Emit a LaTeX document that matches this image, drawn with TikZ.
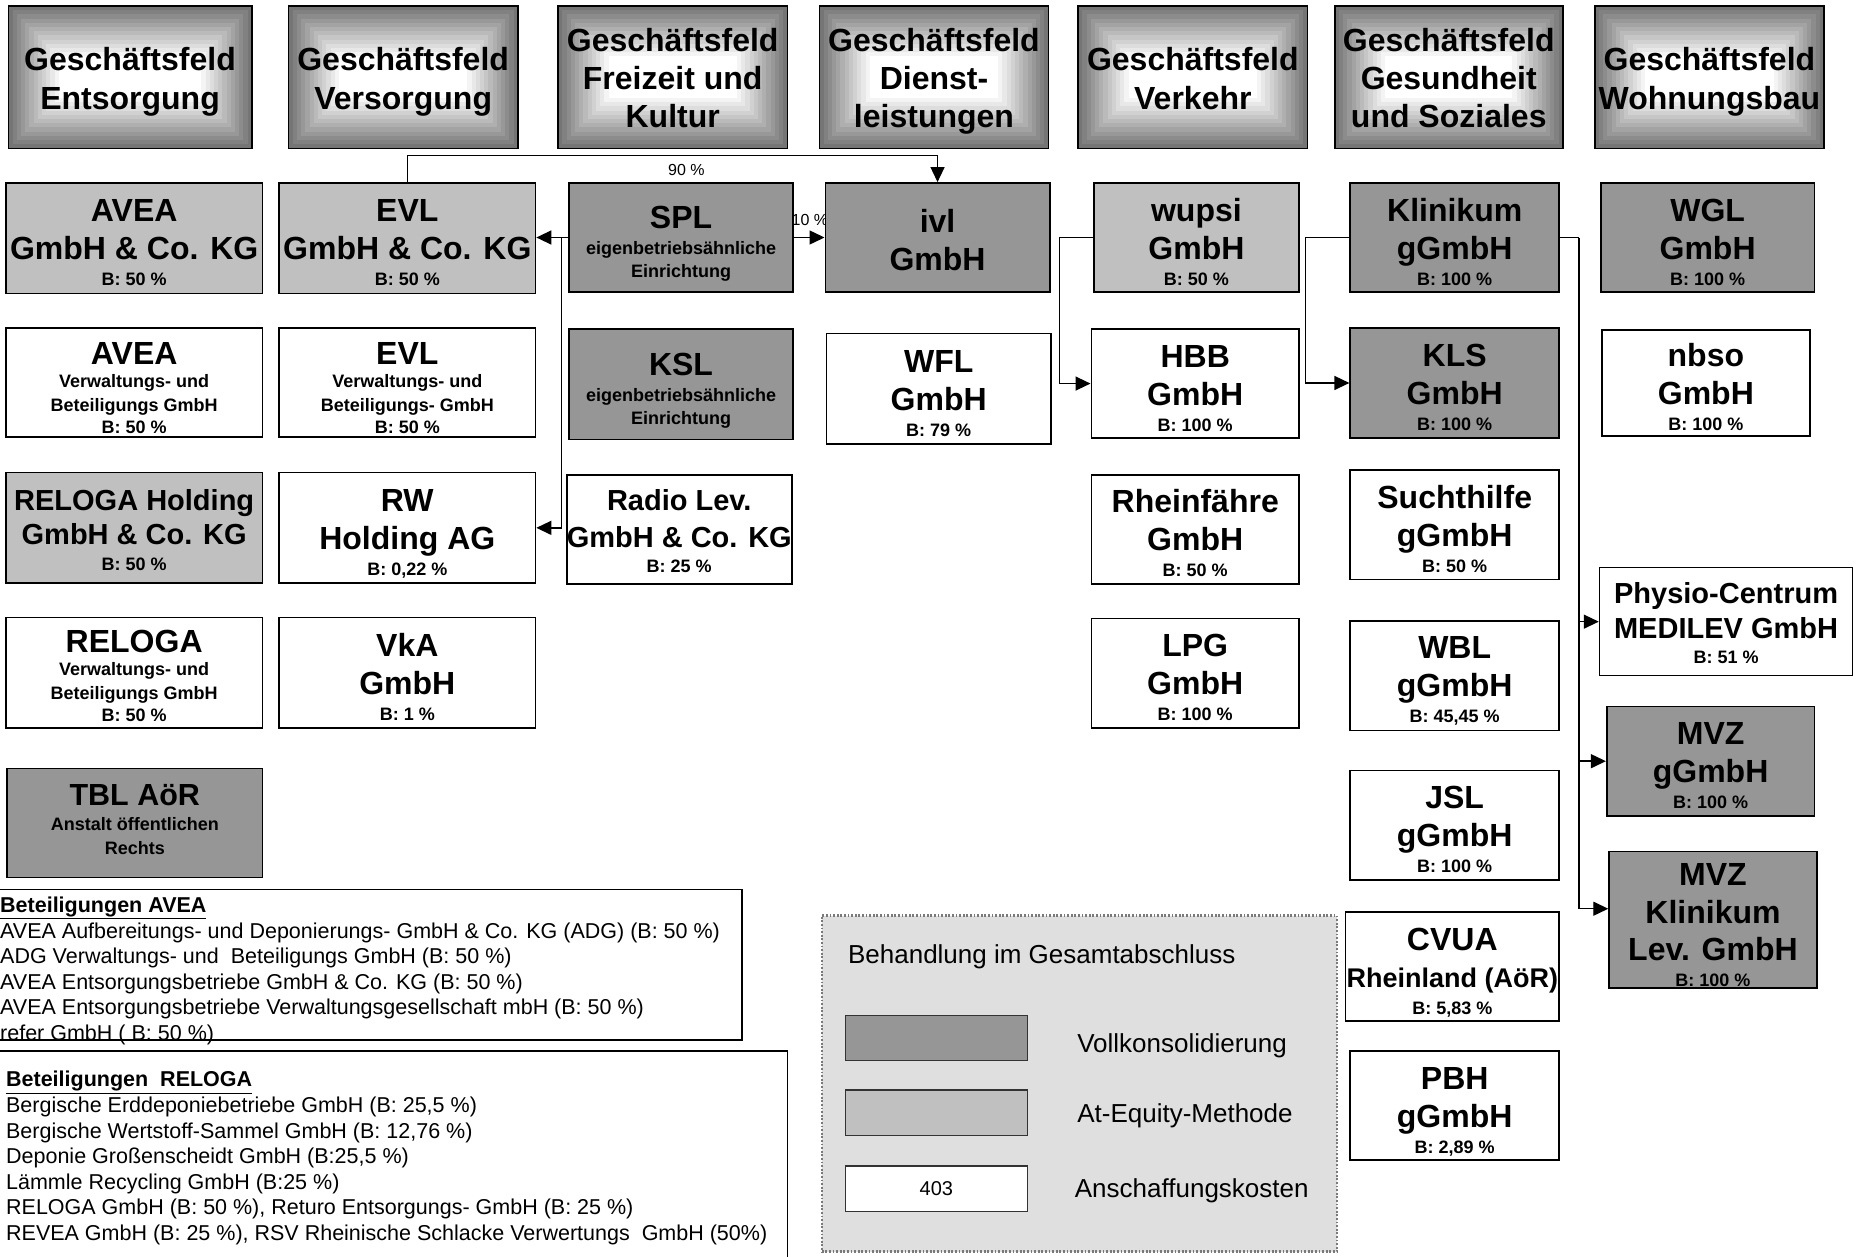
\documentclass[tikz,border=0pt]{standalone}
\usepackage{fontspec}
\setmainfont{Liberation Sans}
\usetikzlibrary{arrows.meta,fit,calc}
\definecolor{vkgray}{HTML}{969696}
\definecolor{eqgray}{HTML}{C0C0C0}
\definecolor{leggray}{HTML}{DFDFDF}
\definecolor{dotgray}{HTML}{7A7A7A}
\newcommand\nodeF{\fontsize{18}{0}\selectfont\lineskiplimit=-1000pt\bfseries}
\newcommand\headF{\fontsize{32}{0}\selectfont\lineskiplimit=-1000pt\bfseries}
\newcommand\bgF{\fontsize{32}{0}\selectfont}
\newcommand\mdF{\fontsize{29}{0}\selectfont}
\newcommand\rlF{\fontsize{27}{0}\selectfont}
\newcommand\tbF{\fontsize{30.5}{0}\selectfont}
\newcommand\legF{\fontsize{26}{30}\selectfont}
\newcommand\lstF{\fontsize{21.5}{25.6}\selectfont}
\newcommand\tpad[1]{\rule{0pt}{#1}}
\newcommand\dpad[1]{\rule[-#1]{0pt}{#1}}
\tikzset{
  boxat/.style n args={4}{minimum width={(#3-#1)*1.1875pt}, minimum height={(#4-#2)*1.1875pt},
     at={({(#1+#3)/2},{(#2+#4)/2})}},
  box/.style={draw=black, line width=1.6pt, inner sep=0pt, align=center, font=\nodeF},
  vk/.style={box, fill=vkgray},
  eq/.style={box, fill=eqgray},
  ak/.style={box, fill=white},
  hdr/.style={box, font=\headF, fill=black!54, path picture={
      \foreach \k in {1,...,12}{
        \pgfmathsetmacro\gv{54-54*\k/12}
        \fill[black!\gv] ([shift={(\k*4.2pt,\k*4.2pt)}]path picture bounding box.south west)
          rectangle ([shift={(-\k*4.2pt,-\k*4.2pt)}]path picture bounding box.north east);
      }}},
  listbx/.style={draw=black, line width=1.6pt, inner sep=0pt},
  legbox/.style={fill=leggray, draw=dotgray, line width=2.4pt, dash pattern=on 1.8pt off 1.8pt, inner sep=0pt},
  swatch/.style={draw=black!80, line width=1.4pt, inner sep=0pt},
  lbl/.style={font=\fontsize{16}{19}\selectfont, inner sep=0pt},
  lsttxt/.style={anchor=north west, align=left, inner sep=0pt, font=\lstF},
  legtxt/.style={anchor=base west, inner sep=0pt, font=\legF},
  ln/.style={line width=1.4pt},
  arr/.style={line width=1.4pt, -{Triangle[length=15pt,width=14pt]}},
}
\begin{document}
\begin{tikzpicture}[x=1.1875pt, y=-1.1875pt]
\useasboundingbox (0,0) rectangle (1568,1058);
\fill[white] (0,0) rectangle (1568,1058);

% headers
\node[hdr, boxat={7}{5}{212}{125}] (h1) {\tpad{33pt}Geschäftsfeld\\[39pt]Entsorgung\dpad{6.7pt}};
\node[hdr, boxat={243}{5}{436}{125}] (h2) {\tpad{33pt}Geschäftsfeld\\[39pt]Versorgung\dpad{6.7pt}};
\node[hdr, boxat={470}{5}{663}{125}] (h3) {\tpad{30.6pt}Geschäftsfeld\\[38pt]Freizeit und\\[38pt]Kultur\dpad{6.7pt}};
\node[hdr, boxat={690}{5}{883}{125}] (h4) {\tpad{30.6pt}Geschäftsfeld\\[38pt]Dienst-\\[38pt]leistungen\dpad{6.7pt}};
\node[hdr, boxat={908}{5}{1101}{125}] (h5) {\tpad{33pt}Geschäftsfeld\\[39pt]Verkehr\dpad{6.7pt}};
\node[hdr, boxat={1124}{5}{1316}{125}] (h6) {\tpad{30.6pt}Geschäftsfeld\\[38pt]Gesundheit\\[38pt]und Soziales\dpad{6.7pt}};
\node[hdr, boxat={1343}{5}{1536}{125}] (h7) {\tpad{33pt}Geschäftsfeld\\[39pt]Wohnungsbau\dpad{6.7pt}};

% row 1
\node[eq, boxat={5}{154}{221}{247}] (avea) {{\bgF\tpad{31.4pt}AVEA}\\[38pt]{\bgF GmbH \& Co. KG}\\[26pt]B: 50 \%};
\node[eq, boxat={235}{154}{451}{247}] (evl) {{\bgF\tpad{31.4pt}EVL}\\[38pt]{\bgF GmbH \& Co. KG}\\[26pt]B: 50 \%};
\node[vk, boxat={479}{154}{668}{246}] (spl) {{\bgF\tpad{35pt}SPL}\\[26pt]eigenbetriebsähnliche\\[23pt]Einrichtung};
\node[lbl] (l10) at (682,185) {10 \%};
\node[vk, boxat={695}{154}{884}{246}] (ivl) {{\bgF\tpad{28pt}ivl}\\[38pt]{\bgF GmbH}};
\node[eq, boxat={921}{154}{1094}{246}] (wupsi) {{\bgF\tpad{31.4pt}wupsi}\\[38pt]{\bgF GmbH}\\[26pt]B: 50 \%};
\node[vk, boxat={1137}{154}{1313}{246}] (klin) {{\bgF\tpad{31.4pt}Klinikum}\\[38pt]{\bgF gGmbH}\\[26pt]B: 100 \%};
\node[vk, boxat={1348}{154}{1528}{246}] (wgl) {{\bgF\tpad{31.4pt}WGL}\\[38pt]{\bgF GmbH}\\[26pt]B: 100 \%};

% row 2
\node[ak, boxat={5}{276}{221}{368}] (aveav) {{\bgF\tpad{33pt}AVEA}\\[23.5pt]Verwaltungs- und\\[23.5pt]Beteiligungs GmbH\\[22pt]B: 50 \%};
\node[ak, boxat={235}{276}{451}{368}] (evlv) {{\bgF\tpad{33pt}EVL}\\[23.5pt]Verwaltungs- und\\[23.5pt]Beteiligungs- GmbH\\[22pt]B: 50 \%};
\node[vk, boxat={479}{277}{668}{370}] (ksl) {{\bgF\tpad{35pt}KSL}\\[26pt]eigenbetriebsähnliche\\[23pt]Einrichtung};
\node[ak, boxat={696}{281}{885}{374}] (wfl) {{\bgF\tpad{32pt}WFL}\\[38pt]{\bgF GmbH}\\[26pt]B: 79 \%};
\node[ak, boxat={919}{277}{1094}{369}] (hbb) {{\bgF\tpad{32pt}HBB}\\[38pt]{\bgF GmbH}\\[26pt]B: 100 \%};
\node[vk, boxat={1137}{276}{1313}{369}] (kls) {{\bgF\tpad{31.4pt}KLS}\\[38pt]{\bgF GmbH}\\[26pt]B: 100 \%};
\node[ak, boxat={1349}{278}{1524}{367}] (nbso) {{\bgF\tpad{31.4pt}nbso}\\[38pt]{\bgF GmbH}\\[26pt]B: 100 \%};

% row 3
\node[eq, boxat={5}{398}{221}{491}] (relh) {{\mdF\tpad{26pt}RELOGA Holding}\\[34pt]{\mdF GmbH \& Co. KG}\\[26pt]B: 50 \%};
\node[ak, boxat={235}{398}{451}{491}] (rw) {{\bgF\tpad{34pt}RW}\\[38pt]{\bgF Holding AG}\\[26pt]B: 0,22 \%};
\node[ak, boxat={478}{400}{666}{492}] (radio) {{\mdF\tpad{23.5pt}Radio Lev.}\\[37pt]{\mdF GmbH \& Co. KG}\\[25pt]B: 25 \%};
\node[ak, boxat={919}{400}{1094}{492}] (rhein) {{\bgF\tpad{29pt}Rheinfähre}\\[38pt]{\bgF GmbH}\\[26pt]B: 50 \%};
\node[ak, boxat={1137}{396}{1313}{488}] (sucht) {{\bgF\tpad{31.4pt}Suchthilfe}\\[38pt]{\bgF gGmbH}\\[26pt]B: 50 \%};

% row 4
\node[ak, boxat={5}{520}{221}{613}] (relv) {{\bgF\tpad{28pt}RELOGA}\\[23.5pt]Verwaltungs- und\\[23.5pt]Beteiligungs GmbH\\[22pt]B: 50 \%};
\node[ak, boxat={235}{520}{451}{613}] (vka) {{\bgF\tpad{31.4pt}VkA}\\[38pt]{\bgF GmbH}\\[26pt]B: 1 \%};
\node[ak, boxat={919}{521}{1094}{613}] (lpg) {{\bgF\tpad{31.4pt}LPG}\\[38pt]{\bgF GmbH}\\[26pt]B: 100 \%};
\node[ak, boxat={1137}{523}{1313}{615}] (wbl) {{\bgF\tpad{32pt}WBL}\\[38pt]{\bgF gGmbH}\\[26pt]B: 45,45 \%};
\node[ak, boxat={1347}{478}{1560}{569}] (physio) {{\mdF\tpad{23.5pt}Physio-Centrum}\\[35pt]{\mdF MEDILEV GmbH}\\[25pt]B: 51 \%};

% row 5 and below
\node[vk, boxat={6}{647}{221}{739}] (tbl) {{\tbF TBL AöR}\\[24.5pt]Anstalt öffentlichen\\[24pt]Rechts\dpad{7.2pt}};
\node[ak, boxat={1137}{649}{1313}{741}] (jsl) {{\bgF\tpad{31.4pt}JSL}\\[38pt]{\bgF gGmbH}\\[26pt]B: 100 \%};
\node[vk, boxat={1353}{595}{1528}{687}] (mvzg) {{\bgF\tpad{31.4pt}MVZ}\\[38pt]{\bgF gGmbH}\\[26pt]B: 100 \%};
\node[vk, boxat={1355}{717}{1530}{832}] (mvzk) {{\bgF\tpad{33pt}MVZ}\\[38pt]{\bgF Klinikum}\\[37pt]{\bgF Lev. GmbH}\\[26pt]B: 100 \%};
\node[ak, boxat={1133}{768}{1313}{860}] (cvua) {{\bgF\tpad{35.4pt}CVUA}\\[37pt]{\rlF Rheinland (AöR)}\\[27pt]B: 5,83 \%};
\node[ak, boxat={1137}{885}{1313}{977}] (pbh) {{\bgF\tpad{35pt}PBH}\\[38pt]{\bgF gGmbH}\\[26pt]B: 2,89 \%};

% lists
\node[lsttxt] (tavea) at (0,755.1) {\textbf{\underline{Beteiligungen AVEA}}\\
AVEA Aufbereitungs- und Deponierungs- GmbH \& Co. KG (ADG) (B: 50 \%)\\
ADG Verwaltungs- und\ \ Beteiligungs GmbH (B: 50 \%)\\
AVEA Entsorgungsbetriebe GmbH \& Co. KG (B: 50 \%)\\
AVEA Entsorgungsbetriebe Verwaltungsgesellschaft mbH (B: 50 \%)\\
refer GmbH ( B: 50 \%)};
\node[listbx, fit={(-5,749)(625,876)}] (bavea) {};
\node[listbx, fit={(-5,885)(663,1075)}] (breloga) {};
\node[lsttxt] (treloga) at (5,902) {\textbf{\underline{Beteiligungen\ \ RELOGA}}\\
Bergische Erddeponiebetriebe GmbH (B: 25,5 \%)\\
Bergische Wertstoff-Sammel GmbH (B: 12,76 \%)\\
Deponie Großenscheidt GmbH (B:25,5 \%)\\
Lämmle Recycling GmbH (B:25 \%)\\
RELOGA GmbH (B: 50 \%), Returo Entsorgungs- GmbH (B: 25 \%)\\
REVEA GmbH (B: 25 \%), RSV Rheinische Schlacke Verwertungs\ \ GmbH (50\%)};

% legend
\node[legbox, fit={(692,771)(1126,1054)}] (leg) {};
\node[legtxt] (legt) at (714,811) {Behandlung im Gesamtabschluss};
\node[swatch, fill=vkgray, boxat={712}{855}{865}{893}] (sw1) {};
\node[swatch, fill=eqgray, boxat={712}{918}{865}{956}] (sw2) {};
\node[swatch, fill=white, boxat={712}{982}{865}{1020}, font=\fontsize{20}{24}\selectfont] (sw3) {403};
\node[legtxt] (lt1) at (907,886) {Vollkonsolidierung};
\node[legtxt] (lt2) at (907,945) {At-Equity-Methode};
\node[legtxt] (lt3) at (905,1008) {Anschaffungskosten};

% connectors
\coordinate (top90) at (566,131);
\draw[arr] (evl.north) |- (top90) -| (ivl.north);
\node[lbl] (l90) at (578,143) {90 \%};
\draw[arr] (spl.east) -- (ivl.west);
\draw[arr] (spl.west) -- (spl.west -| evl.east);
\coordinate (br) at (473,200);
\draw[arr] (br) |- (rw.east);
\draw[arr] (wupsi.west) -- ++(-28,0) |- (hbb.west);
\draw[arr] (klin.west) -- ++(-37,0) |- (kls.west);
\coordinate (trk) at ($(klin.east)+(16,0)$);
\draw[ln] (klin.east) -- (trk);
\draw[arr] (trk) |- ([yshift=11pt]mvzk.west);
\draw[arr] (trk |- physio.west) -- (physio.west);
\draw[arr] (trk |- mvzg.west) -- (mvzg.west);
\end{tikzpicture}
\end{document}
